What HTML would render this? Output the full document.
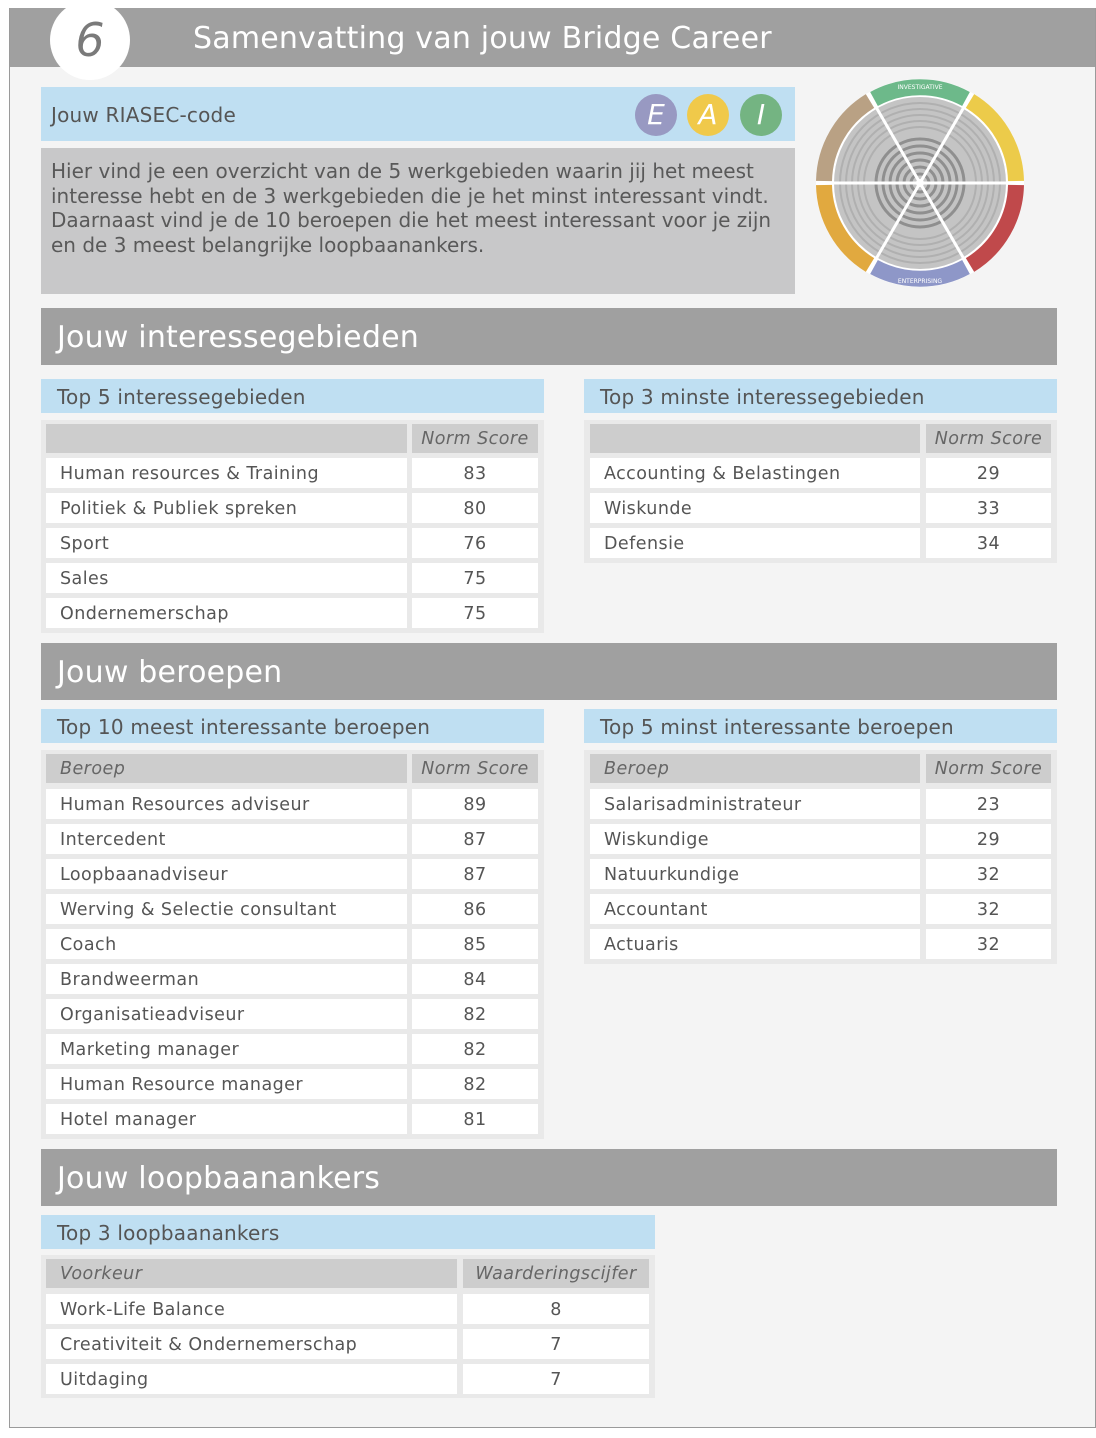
<!DOCTYPE html>
<html><head><meta charset="utf-8"><style>
*{margin:0;padding:0;box-sizing:border-box}
body{width:1096px;height:1438px;background:#fff;font-family:"DejaVu Sans","Liberation Sans",sans-serif;color:#555;position:relative;overflow:hidden}
.a{position:absolute}
.frame{left:9px;top:8px;width:1087px;height:1420px;background:#f4f4f4;border:1px solid #9a9a9a}
.hdr{left:10px;top:8px;width:1085px;height:59px;background:#a0a0a0}
.sec{background:#a0a0a0;color:#fff;font-size:30px;padding-left:16px;line-height:60px;height:57px;letter-spacing:0.2px}
.sub{background:#bfdff2;color:#555;font-size:20px;padding-left:16px;line-height:36px;height:34px;letter-spacing:0.2px}
.tb{background:#e9e9e9}
.c{position:absolute;background:#fff;font-size:17.5px;line-height:33px;height:30px;padding-left:14px;white-space:nowrap;letter-spacing:0.45px}
.h{position:absolute;background:#cdcdcd;font-size:17.5px;line-height:31px;height:29px;font-style:italic;padding-left:14px;color:#666;letter-spacing:0.45px}
.n{text-align:center;padding-left:0}
.b{position:absolute;width:42px;height:42px;border-radius:50%;color:#fff;font-style:italic;font-size:28px;text-align:center;line-height:42px}
</style></head><body>
<div class="a frame"></div>
<div class="a hdr"></div>
<div class="a" style="left:50px;top:0;width:80px;height:80px;border-radius:50%;background:#fff;color:#7a7a7a;font-size:46px;text-align:center;line-height:80px;font-style:italic">6</div>
<div class="a" style="left:193px;top:17px;color:#fff;font-size:30px;line-height:44px;letter-spacing:0.2px">Samenvatting van jouw Bridge Career</div>

<div class="a sub" style="left:41px;top:87px;width:754px;height:54px;line-height:56px;padding-left:10px">Jouw RIASEC-code</div>
<div class="b" style="left:635px;top:94px;background:#9899c2">E</div>
<div class="b" style="left:687px;top:94px;background:#f0c94a">A</div>
<div class="b" style="left:740px;top:94px;background:#74b482">I</div>
<div class="a" style="left:41px;top:148px;width:754px;height:146px;background:#c8c8c9;font-size:20px;line-height:24.5px;padding:11px 0 0 10px;color:#595959;white-space:nowrap">Hier vind je een overzicht van de 5 werkgebieden waarin jij het meest<br>interesse hebt en de 3 werkgebieden die je het minst interessant vindt.<br>Daarnaast vind je de 10 beroepen die het meest interessant voor je zijn<br>en de 3 meest belangrijke loopbaanankers.</div>

<svg class="a" style="left:810px;top:75px" width="220" height="220" viewBox="0 0 220 220">
<g transform="translate(110,108)">
<circle r="104" fill="#fff"/>
<g fill="none" stroke-width="16">
<path d="M-46,-84 A96,96 0 0 1 46,-84" stroke="#6db98a"/>
<path d="M50,-82 A96,96 0 0 1 96,-2" stroke="#eccb4a"/>
<path d="M96,2 A96,96 0 0 1 50,82" stroke="#c0494b"/>
<path d="M46,84 A96,96 0 0 1 -46,84" stroke="#8e97c8"/>
<path d="M-50,82 A96,96 0 0 1 -96,2" stroke="#e1a93f"/>
<path d="M-96,-2 A96,96 0 0 1 -50,-82" stroke="#b9a184"/>
</g>
<circle r="86" fill="#c4c4c4"/>
<g fill="none" stroke="#b0b0b0" stroke-width="2">
<circle r="80"/><circle r="74"/><circle r="68"/><circle r="62"/><circle r="56"/>
</g>
<g fill="none" stroke="#8f8f8f" stroke-width="3">
<circle r="44"/><circle r="37"/><circle r="30"/><circle r="23"/><circle r="16"/><circle r="9"/>
</g>
<g stroke="#fff" stroke-width="3">
<line x1="-88" y1="0" x2="88" y2="0"/>
<line x1="-44" y1="-76" x2="44" y2="76"/>
<line x1="44" y1="-76" x2="-44" y2="76"/>
</g>
<circle r="4" fill="#fff"/>
<g fill="#fff" font-size="6" font-family="DejaVu Sans" text-anchor="middle">
<text y="-94">INVESTIGATIVE</text><text y="100">ENTERPRISING</text>
</g>
</g>
</svg>

<div class="a sec" style="left:41px;top:308px;width:1016px">Jouw interessegebieden</div>
<div class="a sub" style="left:41px;top:379px;width:503px">Top 5 interessegebieden</div>
<div class="a sub" style="left:584px;top:379px;width:473px">Top 3 minste interessegebieden</div>

<div class="a tb" style="left:41px;top:420px;width:503px;height:213px"></div>
<div class="h" style="left:46px;top:424px;width:361px"></div>
<div class="h n" style="left:412px;top:424px;width:126px">Norm Score</div>
<div class="c" style="left:46px;top:458px;width:361px">Human resources &amp; Training</div><div class="c n" style="left:412px;top:458px;width:126px">83</div>
<div class="c" style="left:46px;top:493px;width:361px">Politiek &amp; Publiek spreken</div><div class="c n" style="left:412px;top:493px;width:126px">80</div>
<div class="c" style="left:46px;top:528px;width:361px">Sport</div><div class="c n" style="left:412px;top:528px;width:126px">76</div>
<div class="c" style="left:46px;top:563px;width:361px">Sales</div><div class="c n" style="left:412px;top:563px;width:126px">75</div>
<div class="c" style="left:46px;top:598px;width:361px">Ondernemerschap</div><div class="c n" style="left:412px;top:598px;width:126px">75</div>

<div class="a tb" style="left:584px;top:420px;width:473px;height:143px"></div>
<div class="h" style="left:590px;top:424px;width:330px"></div>
<div class="h n" style="left:926px;top:424px;width:125px">Norm Score</div>
<div class="c" style="left:590px;top:458px;width:330px">Accounting &amp; Belastingen</div><div class="c n" style="left:926px;top:458px;width:125px">29</div>
<div class="c" style="left:590px;top:493px;width:330px">Wiskunde</div><div class="c n" style="left:926px;top:493px;width:125px">33</div>
<div class="c" style="left:590px;top:528px;width:330px">Defensie</div><div class="c n" style="left:926px;top:528px;width:125px">34</div>

<div class="a sec" style="left:41px;top:643px;width:1016px">Jouw beroepen</div>
<div class="a sub" style="left:41px;top:709px;width:503px">Top 10 meest interessante beroepen</div>
<div class="a sub" style="left:584px;top:709px;width:473px">Top 5 minst interessante beroepen</div>

<div class="a tb" style="left:41px;top:750px;width:503px;height:389px"></div>
<div class="h" style="left:46px;top:754px;width:361px">Beroep</div>
<div class="h n" style="left:412px;top:754px;width:126px">Norm Score</div>
<div class="c" style="left:46px;top:789px;width:361px">Human Resources adviseur</div><div class="c n" style="left:412px;top:789px;width:126px">89</div>
<div class="c" style="left:46px;top:824px;width:361px">Intercedent</div><div class="c n" style="left:412px;top:824px;width:126px">87</div>
<div class="c" style="left:46px;top:859px;width:361px">Loopbaanadviseur</div><div class="c n" style="left:412px;top:859px;width:126px">87</div>
<div class="c" style="left:46px;top:894px;width:361px">Werving &amp; Selectie consultant</div><div class="c n" style="left:412px;top:894px;width:126px">86</div>
<div class="c" style="left:46px;top:929px;width:361px">Coach</div><div class="c n" style="left:412px;top:929px;width:126px">85</div>
<div class="c" style="left:46px;top:964px;width:361px">Brandweerman</div><div class="c n" style="left:412px;top:964px;width:126px">84</div>
<div class="c" style="left:46px;top:999px;width:361px">Organisatieadviseur</div><div class="c n" style="left:412px;top:999px;width:126px">82</div>
<div class="c" style="left:46px;top:1034px;width:361px">Marketing manager</div><div class="c n" style="left:412px;top:1034px;width:126px">82</div>
<div class="c" style="left:46px;top:1069px;width:361px">Human Resource manager</div><div class="c n" style="left:412px;top:1069px;width:126px">82</div>
<div class="c" style="left:46px;top:1104px;width:361px">Hotel manager</div><div class="c n" style="left:412px;top:1104px;width:126px">81</div>

<div class="a tb" style="left:584px;top:750px;width:473px;height:214px"></div>
<div class="h" style="left:590px;top:754px;width:330px">Beroep</div>
<div class="h n" style="left:926px;top:754px;width:125px">Norm Score</div>
<div class="c" style="left:590px;top:789px;width:330px">Salarisadministrateur</div><div class="c n" style="left:926px;top:789px;width:125px">23</div>
<div class="c" style="left:590px;top:824px;width:330px">Wiskundige</div><div class="c n" style="left:926px;top:824px;width:125px">29</div>
<div class="c" style="left:590px;top:859px;width:330px">Natuurkundige</div><div class="c n" style="left:926px;top:859px;width:125px">32</div>
<div class="c" style="left:590px;top:894px;width:330px">Accountant</div><div class="c n" style="left:926px;top:894px;width:125px">32</div>
<div class="c" style="left:590px;top:929px;width:330px">Actuaris</div><div class="c n" style="left:926px;top:929px;width:125px">32</div>

<div class="a sec" style="left:41px;top:1149px;width:1016px">Jouw loopbaanankers</div>
<div class="a sub" style="left:41px;top:1215px;width:614px">Top 3 loopbaanankers</div>
<div class="a tb" style="left:41px;top:1255px;width:614px;height:143px"></div>
<div class="h" style="left:46px;top:1259px;width:411px">Voorkeur</div>
<div class="h n" style="left:463px;top:1259px;width:186px">Waarderingscijfer</div>
<div class="c" style="left:46px;top:1294px;width:411px">Work-Life Balance</div><div class="c n" style="left:463px;top:1294px;width:186px">8</div>
<div class="c" style="left:46px;top:1329px;width:411px">Creativiteit &amp; Ondernemerschap</div><div class="c n" style="left:463px;top:1329px;width:186px">7</div>
<div class="c" style="left:46px;top:1364px;width:411px">Uitdaging</div><div class="c n" style="left:463px;top:1364px;width:186px">7</div>
</body></html>
